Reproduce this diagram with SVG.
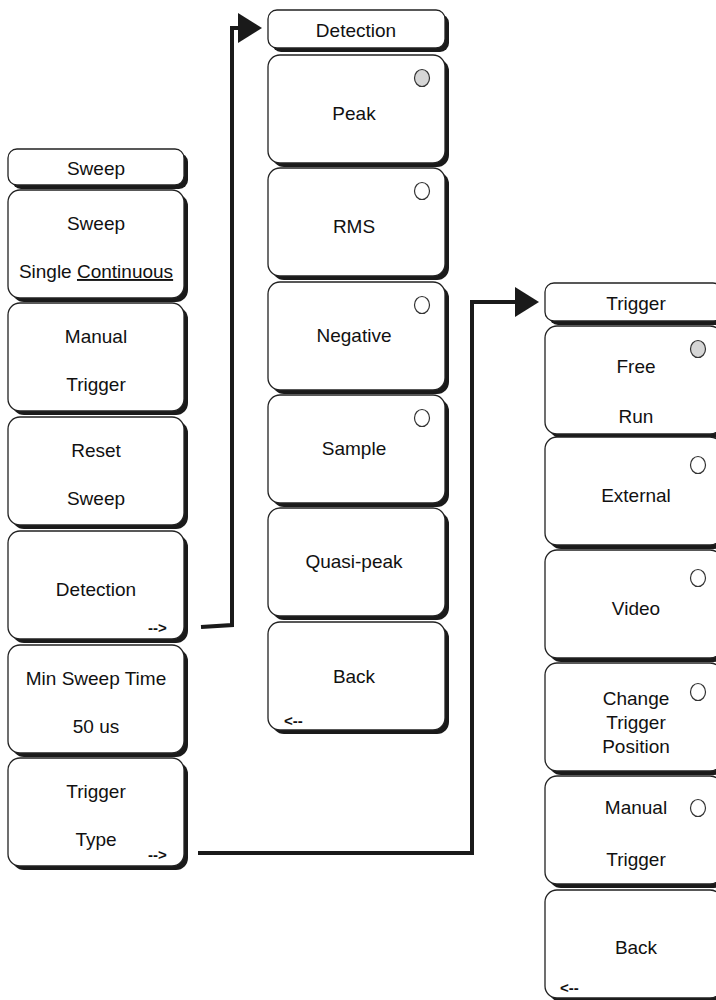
<svg xmlns="http://www.w3.org/2000/svg" width="716" height="1000" viewBox="0 0 716 1000">
<style>
.sh{fill:#1a1a1a}
.bx{fill:#fff;stroke:#222;stroke-width:1.3}
.t{font-family:"Liberation Sans",Arial,sans-serif;font-size:19px;fill:#111;text-anchor:middle}
.s{font-family:"Liberation Sans",Arial,sans-serif;font-size:15px;font-weight:bold;fill:#111}
.off{fill:#fff;stroke:#333;stroke-width:1.2}
.on{fill:#d6d6d6;stroke:#333;stroke-width:1.2}
.cn{fill:none;stroke:#1a1a1a;stroke-width:4;stroke-linejoin:miter}
</style>
<defs>
<g id="hdr"><rect class="sh" x="4" y="4" width="176" height="36" rx="9"/><rect class="bx" x="0" y="0" width="176" height="36" rx="9"/></g>
<g id="hdr2"><rect class="sh" x="4" y="4" width="177" height="38" rx="9"/><rect class="bx" x="0" y="0" width="177" height="38" rx="9"/></g>
<g id="btn"><rect class="sh" x="4" y="4" width="176" height="108" rx="12"/><rect class="bx" x="0" y="0" width="176" height="108" rx="12"/></g>
<g id="btn2"><rect class="sh" x="4" y="4" width="177" height="108" rx="12"/><rect class="bx" x="0" y="0" width="177" height="108" rx="12"/></g>
</defs>

<g id="connectors">
<polyline class="cn" points="201,627 232,625 232,28 240,28"/>
<polygon points="238,13 262,28 238,43" fill="#1a1a1a"/>
<polyline class="cn" points="198,853 472,853 472,302 518,302"/>
<polygon points="515,287 539,302 515,317" fill="#1a1a1a"/>
</g>

<!-- Left column -->
<g id="sweep-header"><use href="#hdr" x="8" y="149"/><text class="t" x="96" y="175">Sweep</text></g>
<g id="sweep-mode"><use href="#btn" x="8" y="190"/><text class="t" x="96" y="230">Sweep</text><text class="t" x="96" y="278">Single <tspan text-decoration="underline">Continuous</tspan></text></g>
<g id="manual-trigger"><use href="#btn" x="8" y="303"/><text class="t" x="96" y="343">Manual</text><text class="t" x="96" y="391">Trigger</text></g>
<g id="reset-sweep"><use href="#btn" x="8" y="417"/><text class="t" x="96" y="457">Reset</text><text class="t" x="96" y="505">Sweep</text></g>
<g id="detection"><use href="#btn" x="8" y="531"/><text class="t" x="96" y="596">Detection</text><text class="s" x="148" y="633">--&gt;</text></g>
<g id="min-sweep-time"><use href="#btn" x="8" y="645"/><text class="t" x="96" y="685">Min Sweep Time</text><text class="t" x="96" y="733">50 us</text></g>
<g id="trigger-type"><use href="#btn" x="8" y="758"/><text class="t" x="96" y="798">Trigger</text><text class="t" x="96" y="846">Type</text><text class="s" x="148" y="860">--&gt;</text></g>

<!-- Middle column -->
<g id="detection-header"><use href="#hdr2" x="268" y="10"/><text class="t" x="356" y="37">Detection</text></g>
<g id="peak"><use href="#btn2" x="268" y="55"/><text class="t" x="354" y="120">Peak</text><ellipse class="on" cx="422" cy="78" rx="7.5" ry="8.5"/></g>
<g id="rms"><use href="#btn2" x="268" y="168"/><text class="t" x="354" y="233">RMS</text><ellipse class="off" cx="422" cy="191" rx="7.5" ry="8.5"/></g>
<g id="negative"><use href="#btn2" x="268" y="282"/><text class="t" x="354" y="342">Negative</text><ellipse class="off" cx="422" cy="305" rx="7.5" ry="8.5"/></g>
<g id="sample"><use href="#btn2" x="268" y="395"/><text class="t" x="354" y="455">Sample</text><ellipse class="off" cx="422" cy="418" rx="7.5" ry="8.5"/></g>
<g id="quasi-peak"><use href="#btn2" x="268" y="508"/><text class="t" x="354" y="568">Quasi-peak</text></g>
<g id="back-detection"><use href="#btn2" x="268" y="622"/><text class="t" x="354" y="683">Back</text><text class="s" x="284" y="726">&lt;--</text></g>

<!-- Right column -->
<g id="trigger-header"><use href="#hdr2" x="545" y="283"/><text class="t" x="636" y="310">Trigger</text></g>
<g id="free-run"><use href="#btn2" x="545" y="326"/><text class="t" x="636" y="373">Free</text><text class="t" x="636" y="423">Run</text><ellipse class="on" cx="698" cy="349" rx="7.5" ry="8.5"/></g>
<g id="external"><use href="#btn2" x="545" y="437"/><text class="t" x="636" y="502">External</text><ellipse class="off" cx="698" cy="465" rx="7.5" ry="8.5"/></g>
<g id="video"><use href="#btn2" x="545" y="550"/><text class="t" x="636" y="615">Video</text><ellipse class="off" cx="698" cy="578" rx="7.5" ry="8.5"/></g>
<g id="change-trigger-position"><use href="#btn2" x="545" y="663"/><text class="t" x="636" y="705">Change</text><text class="t" x="636" y="729">Trigger</text><text class="t" x="636" y="753">Position</text><ellipse class="off" cx="698" cy="692" rx="7.5" ry="8.5"/></g>
<g id="manual-trigger-r"><use href="#btn2" x="545" y="776"/><text class="t" x="636" y="814">Manual</text><text class="t" x="636" y="866">Trigger</text><ellipse class="off" cx="698" cy="808" rx="7.5" ry="8.5"/></g>
<g id="back-trigger"><use href="#btn2" x="545" y="890"/><text class="t" x="636" y="954">Back</text><text class="s" x="560" y="993">&lt;--</text></g>
</svg>
